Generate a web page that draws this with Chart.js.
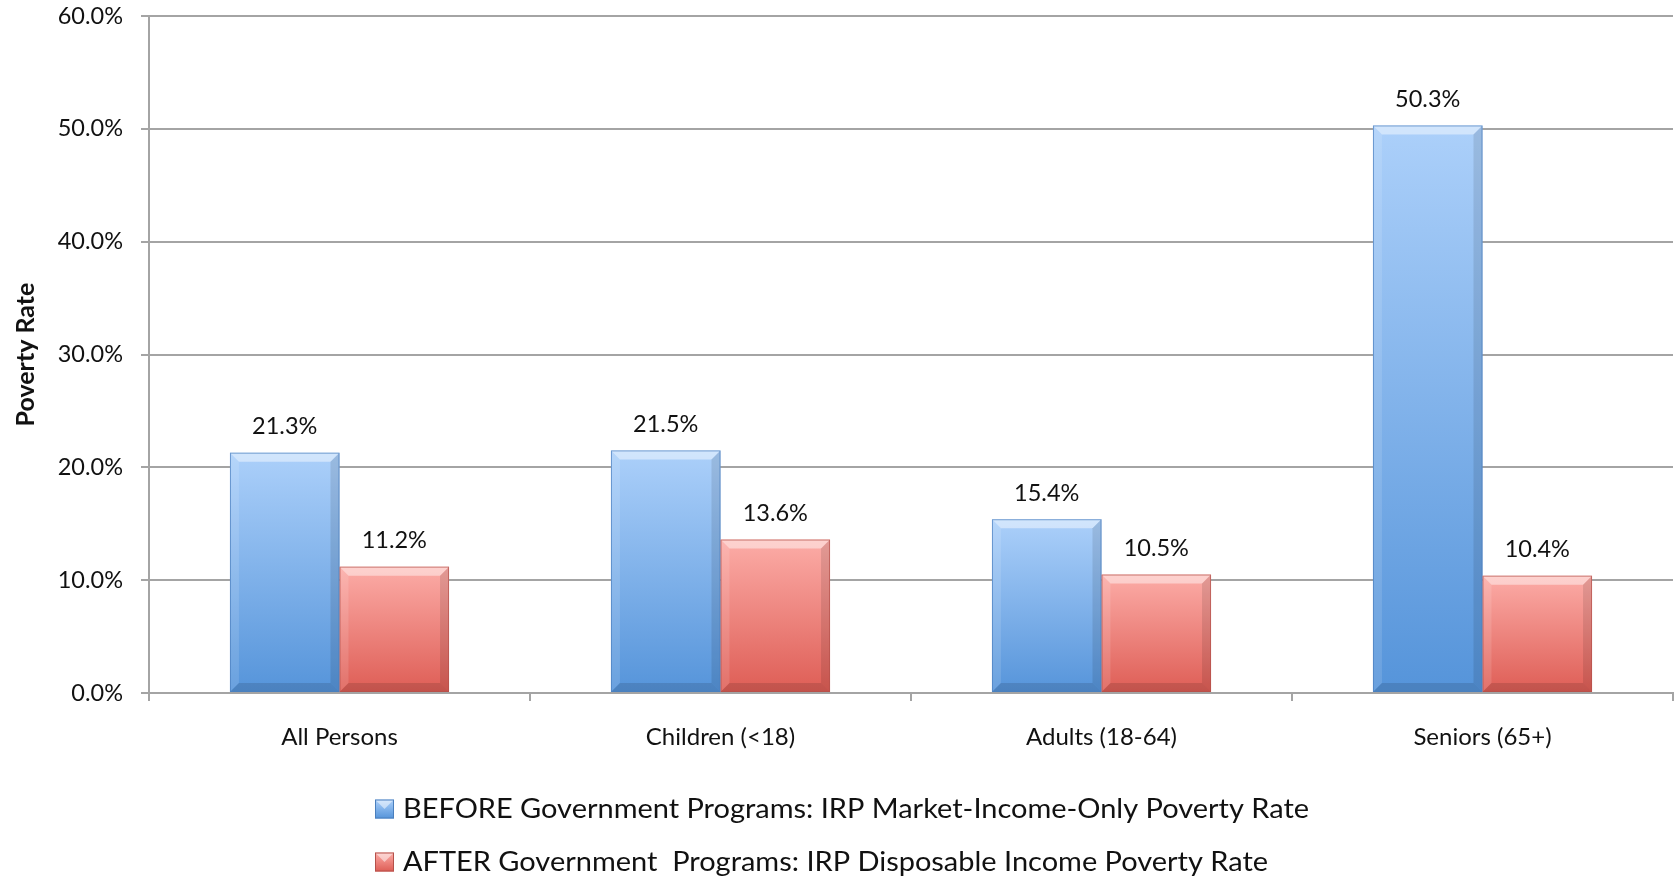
<!DOCTYPE html>
<html>
<head>
<meta charset="utf-8">
<script src="https://cdn.jsdelivr.net/npm/chart.js@4/dist/chart.umd.min.js"></script>
<style>
html,body{margin:0;padding:0;background:#fff;}
canvas{display:block;}
</style>
</head>
<body>
<canvas id="c" width="1676" height="880"></canvas>
<script>
const categories = ['All Persons', 'Children (<18)', 'Adults (18-64)', 'Seniors (65+)'];
const beforeValues = [21.3, 21.5, 15.4, 50.3];
const afterValues = [11.2, 13.6, 10.5, 10.4];
const seriesLabels = [
  'BEFORE Government Programs: IRP Market-Income-Only Poverty Rate',
  'AFTER Government  Programs: IRP Disposable Income Poverty Rate'
];
const yAxisTitle = 'Poverty Rate';
const yMin = 0, yMax = 60, yStep = 10;

const FONT = 'Lato, "Open Sans", "DejaVu Sans", sans-serif';
const palettes = [
  {top: '#acd0fa', bottom: '#5594da', edge: '#4a7fbd'},
  {top: '#fcaca7', bottom: '#de5d55', edge: '#b5514a'}
];

function barGradient(ctx, pal) {
  const chart = ctx.chart;
  const y = chart.scales && chart.scales.y;
  if (!chart.chartArea || !y || ctx.raw == null) return pal.bottom;
  const top = y.getPixelForValue(ctx.raw);
  const base = y.getPixelForValue(0);
  const g = chart.ctx.createLinearGradient(0, top, 0, base);
  g.addColorStop(0, pal.top);
  g.addColorStop(1, pal.bottom);
  return g;
}

const bevelPlugin = {
  id: 'bevel',
  afterDatasetsDraw(chart) {
    const c = chart.ctx;
    chart.data.datasets.forEach((ds, di) => {
      const meta = chart.getDatasetMeta(di);
      meta.data.forEach(el => {
        const w = el.width, l = el.x - w / 2, r = el.x + w / 2, t = el.y, b = el.base;
        const bv = 9;
        c.save();
        c.fillStyle = 'rgba(255,255,255,0.45)';
        c.beginPath(); c.moveTo(l, t); c.lineTo(r, t); c.lineTo(r - bv, t + bv); c.lineTo(l + bv, t + bv); c.closePath(); c.fill();
        c.fillStyle = 'rgba(255,255,255,0.12)';
        c.beginPath(); c.moveTo(l, t); c.lineTo(l + bv, t + bv); c.lineTo(l + bv, b - bv); c.lineTo(l, b); c.closePath(); c.fill();
        c.fillStyle = 'rgba(0,0,0,0.10)';
        c.beginPath(); c.moveTo(r, t); c.lineTo(r - bv, t + bv); c.lineTo(r - bv, b - bv); c.lineTo(r, b); c.closePath(); c.fill();
        c.fillStyle = 'rgba(0,0,0,0.12)';
        c.beginPath(); c.moveTo(l, b); c.lineTo(l + bv, b - bv); c.lineTo(r - bv, b - bv); c.lineTo(r, b); c.closePath(); c.fill();
        c.strokeStyle = palettes[di].edge;
        c.globalAlpha = 0.7;
        c.lineWidth = 1;
        c.strokeRect(l + 0.5, t + 0.5, w - 1, b - t - 1);
        c.restore();
      });
    });
  }
};

const valueLabelPlugin = {
  id: 'valueLabels',
  afterDatasetsDraw(chart) {
    const c = chart.ctx;
    c.save();
    c.font = '23.5px ' + FONT;
    c.fillStyle = '#111';
    c.textAlign = 'center';
    c.textBaseline = 'middle';
    chart.data.datasets.forEach((ds, di) => {
      const meta = chart.getDatasetMeta(di);
      meta.data.forEach((el, i) => {
        c.fillText(ds.data[i].toFixed(1) + '%', el.x, el.y - 26);
      });
    });
    c.restore();
  }
};

const legendPlugin = {
  id: 'customLegend',
  afterDraw(chart) {
    const c = chart.ctx;
    c.save();
    c.font = '26px ' + FONT;
    c.fillStyle = '#111';
    c.textBaseline = 'middle';
    c.textAlign = 'left';
    const w0 = c.measureText(chart.data.datasets[0].label).width;
    const sx = 906 / w0;
    const rows = [809, 862];
    chart.data.datasets.forEach((ds, di) => {
      const cy = rows[di];
      const pal = palettes[di];
      const bx = 375, by = cy - 9.5, bs = 19;
      const g = c.createLinearGradient(0, by, 0, by + bs);
      g.addColorStop(0, pal.top); g.addColorStop(1, pal.bottom);
      c.fillStyle = g;
      c.fillRect(bx, by, bs, bs);
      c.fillStyle = 'rgba(255,255,255,0.5)';
      c.beginPath(); c.moveTo(bx, by); c.lineTo(bx + bs, by); c.lineTo(bx + bs / 2, by + bs / 2); c.closePath(); c.fill();
      c.strokeStyle = pal.edge; c.lineWidth = 1;
      c.strokeRect(bx + 0.5, by + 0.5, bs - 1, bs - 1);
      c.fillStyle = '#111';
      c.save();
      c.translate(403, cy);
      c.scale(sx, 1);
      c.fillText(ds.label, 0, 1);
      c.restore();
    });
    c.restore();
  }
};

const gridColor = '#a4a4a4';

new Chart(document.getElementById('c'), {
  type: 'bar',
  data: {
    labels: categories,
    datasets: [
      {label: seriesLabels[0], data: beforeValues, backgroundColor: ctx => barGradient(ctx, palettes[0]), borderWidth: 0},
      {label: seriesLabels[1], data: afterValues, backgroundColor: ctx => barGradient(ctx, palettes[1]), borderWidth: 0}
    ]
  },
  options: {
    responsive: false,
    animation: false,
    devicePixelRatio: 1,
    layout: {padding: {top: 16, right: 3, bottom: 0, left: 0}},
    datasets: {bar: {barPercentage: 1, categoryPercentage: 0.575}},
    plugins: {
      legend: {display: false},
      tooltip: {enabled: false},
      title: {display: false}
    },
    scales: {
      x: {
        afterFit: s => { s.height = 187; },
        grid: {display: true, drawOnChartArea: false, drawTicks: true, tickLength: 8, color: gridColor, lineWidth: 2},
        border: {display: true, color: gridColor, width: 2},
        ticks: {font: {family: FONT, size: 24}, color: '#111', padding: 22, maxRotation: 0}
      },
      y: {
        min: yMin, max: yMax,
        afterFit: s => { s.width = 149; s.paddingTop = 0; s.paddingBottom = 0; },
        grid: {color: gridColor, lineWidth: 2, tickLength: 8, drawTicks: true},
        border: {display: true, color: gridColor, width: 2},
        ticks: {stepSize: yStep, font: {family: FONT, size: 23.5}, color: '#111', padding: 18,
                callback: v => v.toFixed(1) + '%'},
        title: {display: true, text: yAxisTitle, font: {family: FONT, size: 25, weight: 'bold'}, color: '#111', padding: {top: 11, bottom: 0}}
      }
    }
  },
  plugins: [bevelPlugin, valueLabelPlugin, legendPlugin]
});
</script>
</body>
</html>
